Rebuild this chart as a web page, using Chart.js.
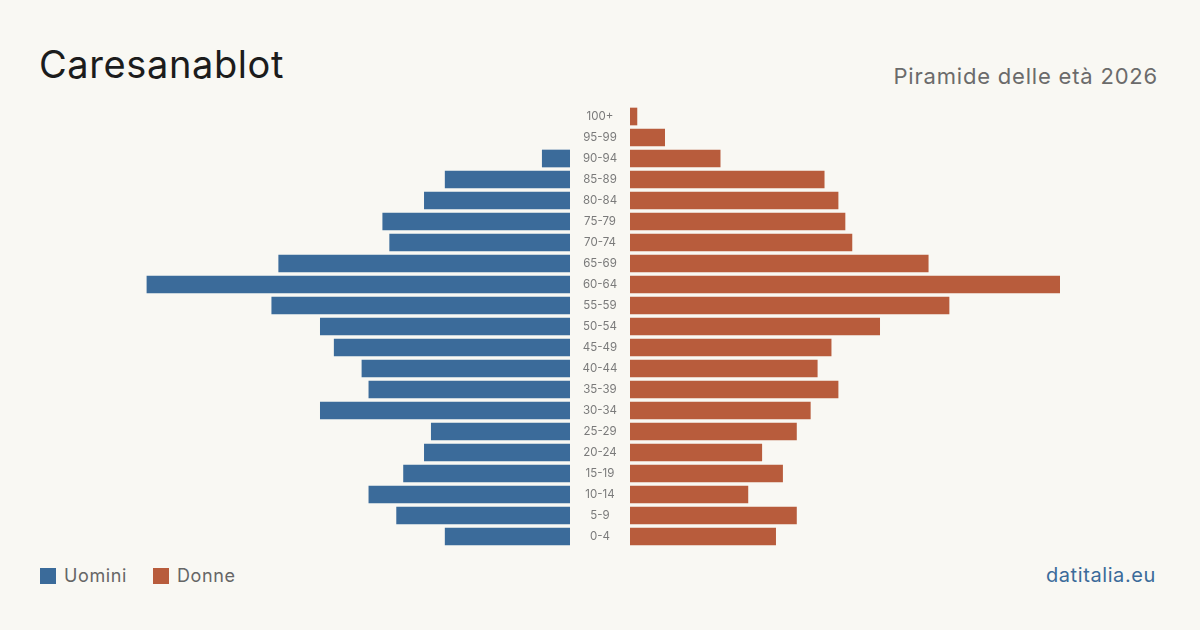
<!DOCTYPE html>
<html lang="it">
<head>
<meta charset="utf-8">
<script src="https://cdn.jsdelivr.net/npm/chart.js@4.4.1/dist/chart.umd.min.js"></script>
<style>
  html, body { margin: 0; padding: 0; }
  body {
    width: 1200px; height: 630px; overflow: hidden;
    background: #f9f8f3; position: relative;
    font-family: Inter, "Noto Sans", sans-serif;
  }
  #titolo { position: absolute; left: 39px; top: 41px; font-size: 38px; color: #1c1c1c; letter-spacing: 0.6px; }
  #sottotitolo { position: absolute; right: 42px; top: 63px; font-size: 22px; color: #6b6b6b; letter-spacing: 0.8px; }
  #sx { position: absolute; left: 140px; top: 106px; width: 430px; height: 441px; }
  #dx { position: absolute; left: 570px; top: 106px; width: 490px; height: 441px; }
  .legenda { position: absolute; top: 565px; font-size: 18px; color: #666; display: flex; align-items: center; letter-spacing: 0.6px; }
  .legenda span.q { display: inline-block; width: 16px; height: 16px; margin-right: 8px; }
  #fonte { position: absolute; right: 44px; top: 563px; font-size: 20px; color: #3b6b9a; letter-spacing: 0.6px; }
</style>
</head>
<body>
<div id="titolo">Caresanablot</div>
<div id="sottotitolo">Piramide delle età 2026</div>
<div id="sx"><canvas id="chartSx"></canvas></div>
<div id="dx"><canvas id="chartDx"></canvas></div>
<div class="legenda" style="left:40px"><span class="q" style="background:#3b6b9a"></span>Uomini</div>
<div class="legenda" style="left:153px"><span class="q" style="background:#b85c3c"></span>Donne</div>
<div id="fonte">datitalia.eu</div>
<script>
// Fasce d'età, dall'alto verso il basso
const fasce = ['100+', '95-99', '90-94', '85-89', '80-84', '75-79', '70-74', '65-69', '60-64', '55-59',
  '50-54', '45-49', '40-44', '35-39', '30-34', '25-29', '20-24', '15-19', '10-14', '5-9', '0-4'];
const uomini = [0, 0, 4, 18, 21, 27, 26, 42, 61, 43, 36, 34, 30, 29, 36, 20, 21, 24, 29, 25, 18];
const donne = [1, 5, 13, 28, 30, 31, 32, 43, 62, 46, 36, 29, 27, 30, 26, 24, 19, 22, 17, 24, 21];
const massimo = 62;

const blu = '#3b6b9a';
const arancio = '#b85c3c';

// etichette delle fasce nella colonna centrale (a sinistra del grafico Donne)
const etichetteCentrali = {
    id: 'etichetteCentrali',
    afterDraw(chart) {
        const ctx = chart.ctx;
        const y = chart.scales.y;
        const xc = chart.chartArea.left - 30;
        ctx.save();
        ctx.fillStyle = '#7a7a7a';
        ctx.font = '11.5px Inter';
        ctx.textAlign = 'center';
        ctx.textBaseline = 'middle';
        fasce.forEach((f, i) => ctx.fillText(f, xc, y.getPixelForValue(i) + 0.5));
        ctx.restore();
    }
};

function opzioni(reverse, paddingSx) {
    return {
        indexAxis: 'y',
        responsive: true,
        maintainAspectRatio: false,
        animation: false,
        layout: { padding: { left: paddingSx, right: 0, top: 0, bottom: 0 } },
        plugins: { legend: { display: false }, tooltip: { enabled: false } },
        scales: {
            x: { min: 0, max: massimo, reverse: reverse, display: false },
            y: { display: false }
        }
    };
}

new Chart(document.getElementById('chartSx'), {
    type: 'bar',
    data: {
        labels: fasce,
        datasets: [{ label: 'Uomini', data: uomini.map(v => v || null), backgroundColor: blu, barThickness: 17, categoryPercentage: 1 }]
    },
    options: opzioni(true, 0)
});

new Chart(document.getElementById('chartDx'), {
    type: 'bar',
    data: {
        labels: fasce,
        datasets: [{ label: 'Donne', data: donne.map(v => v || null), backgroundColor: arancio, barThickness: 17, categoryPercentage: 1 }]
    },
    options: opzioni(false, 60),
    plugins: [etichetteCentrali]
});
</script>
</body>
</html>
